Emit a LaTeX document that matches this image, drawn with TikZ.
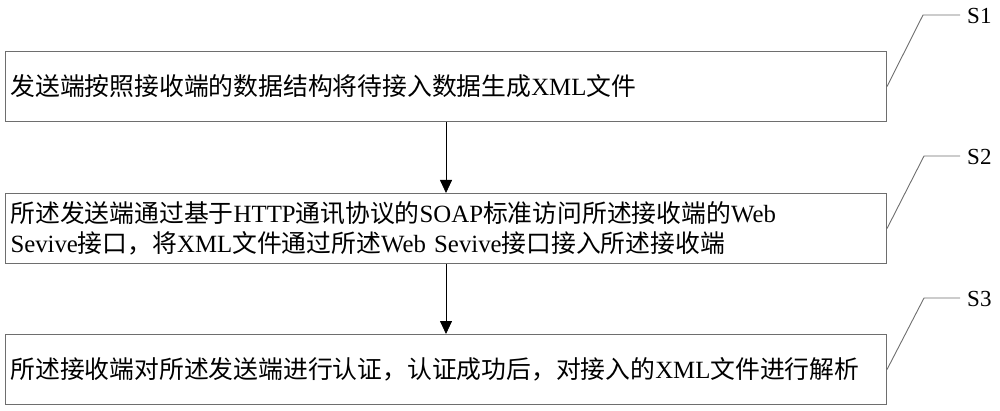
\documentclass[tikz,border=0pt]{standalone}
\usepackage{fontspec}
\setmainfont{Liberation Serif}
\newfontfamily\cjk{Noto Sans CJK SC}
\usetikzlibrary{arrows.meta}
\definecolor{boxgray}{HTML}{6E6E6E}
\begin{document}
\begin{tikzpicture}[x=1pt,y=-1pt,
  stepbox/.style={draw=boxgray, line width=1pt, minimum width=881pt, minimum height=70pt,
    text width=871pt, inner sep=5pt, align=left, anchor=north west,
    font=\fontsize{24.8pt}{30pt}\selectfont},
  flowarrow/.style={draw=black, line width=0.8pt, -{Triangle[length=13pt,width=12pt]}},
  leader/.style={draw=boxgray, line width=0.9pt},
  steplabel/.style={anchor=west, inner sep=0pt, font=\fontsize{23pt}{27pt}\selectfont}]
\useasboundingbox (0,0) rectangle (1000,411);
\node[stepbox] (b1) at (5,51) {{\cjk 发送端按照接收端的数据结构将待接入数据生成}XML{\cjk 文件}};
\node[stepbox] (b2) at (5,193) {{\cjk 所述发送端通过基于}HTTP{\cjk 通讯协议的}SOAP{\cjk 标准访问所述接收端的}Web\\Sevive{\cjk 接口，将}XML{\cjk 文件通过所述}Web Sevive{\cjk 接口接入所述接收端}};
\node[stepbox] (b3) at (5,334) {{\cjk 所述接收端对所述发送端进行认证，认证成功后，对接入的}XML{\cjk 文件进行解析}};
\draw[flowarrow] (b1.south) -- (b2.north);
\draw[flowarrow] (b2.south) -- (b3.north);
\coordinate (k1) at (923,15);
\coordinate (e1) at (960,15);
\coordinate (k2) at (924,156);
\coordinate (e2) at (960,156);
\coordinate (k3) at (924,298);
\coordinate (e3) at (960,298);
\draw[leader] (b1.east) -- (k1) -- (e1);
\draw[leader] (b2.east) -- (k2) -- (e2);
\draw[leader] (b3.east) -- (k3) -- (e3);
\node[steplabel] (s1) at (967,16) {S1};
\node[steplabel] (s2) at (967,157) {S2};
\node[steplabel] (s3) at (967,299) {S3};
\end{tikzpicture}
\end{document}
